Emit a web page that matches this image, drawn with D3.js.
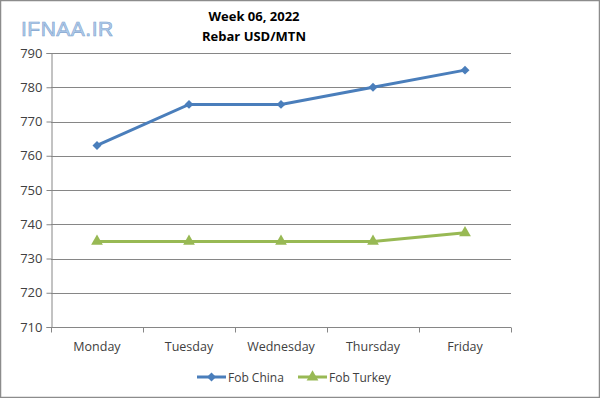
<!DOCTYPE html>
<html><head><meta charset="utf-8">
<script src="https://cdn.jsdelivr.net/npm/d3@7"></script>
<style>body{margin:0;background:#fff}svg{display:block}</style>
</head><body>
<svg id="c" width="600" height="398"></svg>
<script>
const categories = ["Monday","Tuesday","Wednesday","Thursday","Friday"];
const fobChina = [763,775,775,780,785];
const fobTurkey = [735,735,735,735,737.5];
const yTicks = [710,720,730,740,750,760,770,780,790];
const seriesNames = ["Fob China","Fob Turkey"];
const colors = ["#4A7EBB","#98B954"];

(function(){
const svg = d3.select("#c");
const font = "'Open Sans', 'Noto Sans', sans-serif";
svg.append("rect").attr("x",0.5).attr("y",0.5).attr("width",599).attr("height",397)
  .attr("fill","#fff").attr("stroke","#8c8c8c").attr("stroke-width",1.5);

const pL = 51, pR = 511, pT = 53, pB = 327;
const x = d3.scaleBand().domain(categories).range([pL,pR]);
const y = d3.scaleLinear().domain([710,790]).range([pB,pT]);

svg.append("g").selectAll("line").data(yTicks.slice(1)).join("line")
  .attr("x1",pL).attr("x2",pR).attr("y1",d=>Math.round(y(d))+0.5).attr("y2",d=>Math.round(y(d))+0.5)
  .attr("stroke","#868686").attr("stroke-width",1);

const ya = svg.append("g").attr("transform",`translate(${pL+0.5},0)`)
  .call(d3.axisLeft(y).tickValues(yTicks).tickSize(5).tickPadding(4).tickFormat(d3.format("d")));
ya.select(".domain").attr("stroke","#868686");
ya.selectAll(".tick line").attr("stroke","#868686");
ya.selectAll("text").attr("font-family",font).attr("font-size",13).attr("fill","#404040");

const xa = svg.append("g").attr("transform",`translate(0,${pB+0.5})`);
xa.append("line").attr("x1",pL).attr("x2",pR).attr("stroke","#868686");
const bounds = categories.map(c=>x(c)).concat([pR]);
xa.selectAll(".tk").data(bounds).join("line").attr("class","tk")
  .attr("x1",d=>Math.round(d)+0.5).attr("x2",d=>Math.round(d)+0.5).attr("y1",0).attr("y2",5).attr("stroke","#868686");
xa.selectAll("text").data(categories).join("text")
  .attr("x",d=>x(d)+x.bandwidth()/2).attr("y",23).attr("text-anchor","middle")
  .attr("font-family",font).attr("font-size",12.5).attr("fill","#404040").text(d=>d);

const cx = d=>x(d)+x.bandwidth()/2;
const line = d3.line().x((d,i)=>cx(categories[i])).y(d=>y(d));
const diamond = d3.symbol().type(d3.symbolSquare).size(40);
const tri = d3.symbol().type(d3.symbolTriangle).size(60);

function drawSeries(vals,color,sym,rot){
  svg.append("path").datum(vals).attr("d",line).attr("fill","none").attr("stroke",color).attr("stroke-width",3);
  svg.append("g").selectAll("path").data(vals).join("path")
    .attr("transform",(d,i)=>`translate(${cx(categories[i])},${y(d)}) rotate(${rot})`).attr("d",sym).attr("fill",color);
}
drawSeries(fobChina,colors[0],diamond,45);
drawSeries(fobTurkey,colors[1],tri,0);

svg.append("text").attr("x",254).attr("y",21).attr("text-anchor","middle").attr("font-family",font)
  .attr("font-weight","bold").attr("font-size",13).attr("fill","#000").text("Week 06, 2022");
svg.append("text").attr("x",254).attr("y",41).attr("text-anchor","middle").attr("font-family",font)
  .attr("font-weight","bold").attr("font-size",13).attr("fill","#000").text("Rebar USD/MTN");

svg.append("text").attr("x",21).attr("y",36).attr("font-family","'Liberation Sans', sans-serif")
  .attr("font-size",21).attr("fill","#b3cdeb").attr("stroke","#7ea3cf").attr("stroke-width",0.6)
  .attr("letter-spacing",0.5).text("IFNAA.IR");

const lg = svg.append("g").attr("transform","translate(0,377)");
const items = [{n:seriesNames[0],c:colors[0],s:diamond,x:197,r:45},{n:seriesNames[1],c:colors[1],s:tri,x:298,r:0}];
items.forEach(it=>{
  lg.append("line").attr("x1",it.x).attr("x2",it.x+29).attr("stroke",it.c).attr("stroke-width",3);
  lg.append("path").attr("transform",`translate(${it.x+14.5},0) rotate(${it.r})`).attr("d",it.s).attr("fill",it.c);
  lg.append("text").attr("x",it.x+31).attr("y",4.5).attr("font-family",font).attr("font-size",12)
    .attr("fill","#404040").text(it.n);
});
})();
</script>
</body></html>
